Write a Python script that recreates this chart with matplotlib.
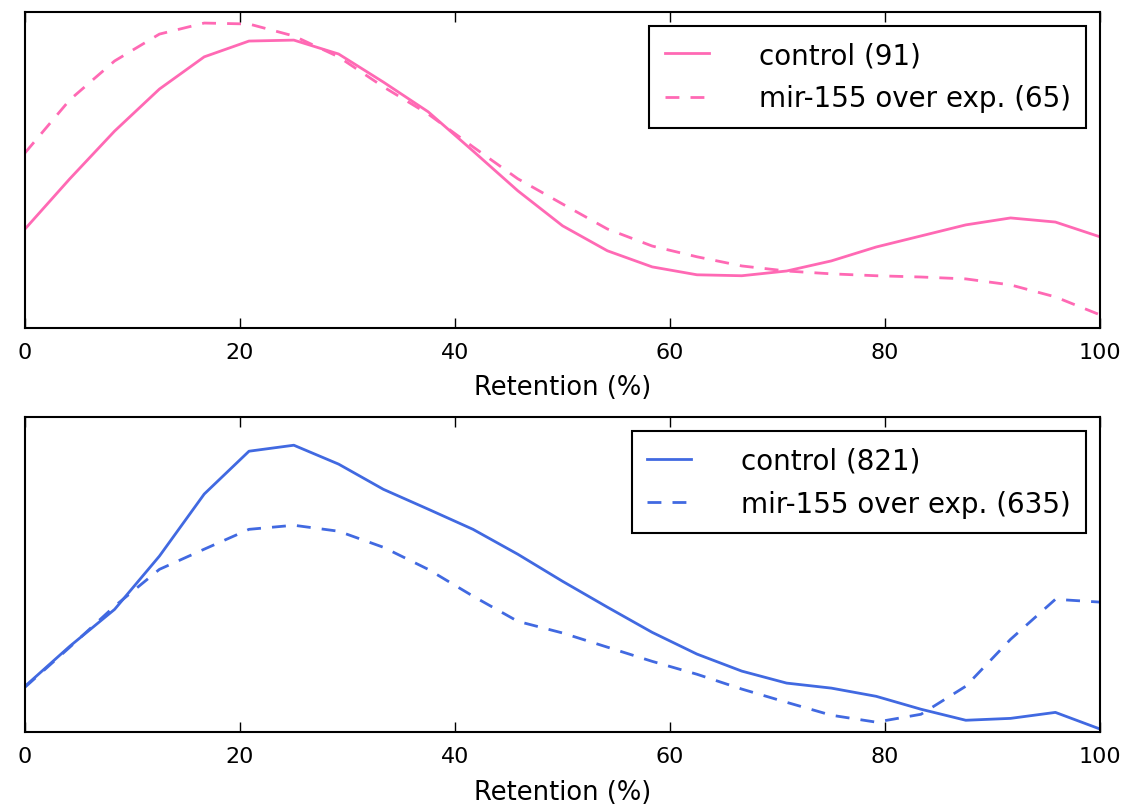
import numpy as np
import matplotlib
matplotlib.use("Agg")
import matplotlib.pyplot as plt

plt.style.use('classic')
plt.rcParams['font.family'] = ['DejaVu Sans']
plt.rcParams['lines.scale_dashes'] = False

# retention bins (25 points from 0 to 100)
retention = np.linspace(0, 100, 25)

# top panel (pink), relative density
top_control = [0.313, 0.472, 0.623, 0.756, 0.858, 0.908, 0.911, 0.867, 0.778,
               0.684, 0.560, 0.434, 0.323, 0.244, 0.193, 0.168, 0.165, 0.180,
               0.212, 0.256, 0.291, 0.326, 0.348, 0.335, 0.288]
top_mir155 = [0.554, 0.722, 0.845, 0.930, 0.965, 0.962, 0.924, 0.858, 0.763,
              0.677, 0.573, 0.472, 0.392, 0.313, 0.259, 0.225, 0.196, 0.180,
              0.171, 0.165, 0.161, 0.155, 0.136, 0.098, 0.041]

# bottom panel (blue)
bot_control = [0.146, 0.273, 0.390, 0.559, 0.756, 0.892, 0.911, 0.851, 0.771,
               0.708, 0.644, 0.565, 0.479, 0.397, 0.317, 0.248, 0.194, 0.156,
               0.140, 0.114, 0.073, 0.038, 0.044, 0.063, 0.010]
bot_mir155 = [0.143, 0.270, 0.400, 0.517, 0.581, 0.644, 0.657, 0.638, 0.587,
              0.517, 0.432, 0.352, 0.315, 0.270, 0.225, 0.184, 0.137, 0.095,
              0.054, 0.032, 0.057, 0.146, 0.295, 0.422, 0.413]

top_labels = ['control (91)', 'mir-155 over exp. (65)']
bot_labels = ['control (821)', 'mir-155 over exp. (635)']
pink = '#ff69b4'
blue = '#4169e1'

fig = plt.figure(figsize=(11.27, 8.12), dpi=100, facecolor='white')
ax1 = fig.add_axes([0.0222, 0.595, 0.954, 0.389])
ax2 = fig.add_axes([0.0222, 0.097, 0.954, 0.388])

panels = [(ax1, top_control, top_mir155, top_labels, pink),
          (ax2, bot_control, bot_mir155, bot_labels, blue)]

for ax, ctrl, mir, labels, col in panels:
    ax.plot(retention, ctrl, color=col, lw=2, label=labels[0])
    ax.plot(retention, mir, color=col, lw=2, linestyle='--', dashes=(10, 8),
            label=labels[1])
    ax.set_xlim(0, 100)
    ax.set_ylim(0, 1)
    ax.set_yticks([])
    ax.set_xticks([0, 20, 40, 60, 80, 100])
    ax.tick_params(axis='x', labelsize=16, length=7, width=1, direction='in',
                   top=True, pad=10)
    for sp in ax.spines.values():
        sp.set_linewidth(1.5)
    ax.set_xlabel('Retention (%)', fontsize=18.5, labelpad=9)
    leg = ax.legend(loc='upper right', fontsize=20, frameon=True, fancybox=False,
                    handlelength=1.6, handletextpad=1.8, borderpad=0.55,
                    labelspacing=0.55, borderaxespad=0.5, numpoints=1)
    leg.get_frame().set_linewidth(1.5)
    leg.get_frame().set_edgecolor('black')

fig.savefig('out.png', dpi=100, facecolor='white')
